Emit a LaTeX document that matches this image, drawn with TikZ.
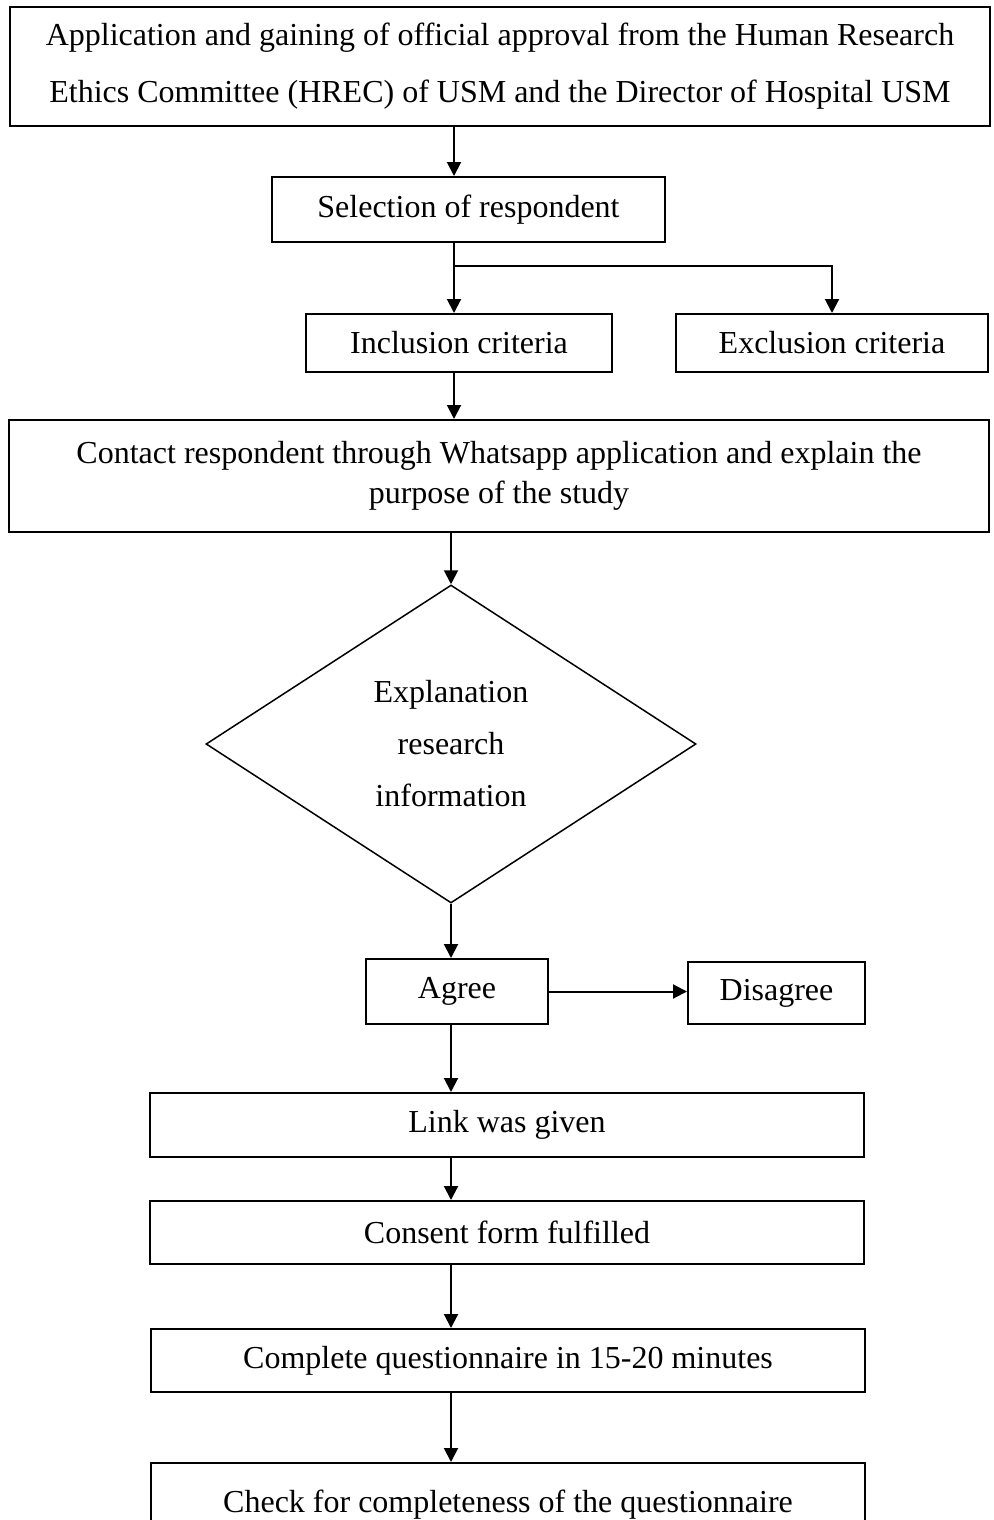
\documentclass[tikz,border=0pt]{standalone}
\usepackage{fontspec}
\setmainfont{Liberation Serif}
\usetikzlibrary{shapes.geometric,arrows.meta}

\begin{document}
\begin{tikzpicture}[x=0.5pt, y=-0.5pt,
        box/.style={draw, line width=1pt, rectangle, inner sep=0pt, align=center, font=\fontsize{16}{20}\selectfont},
        decision/.style={draw, line width=0.75pt, diamond, aspect=1.54, inner sep=0pt, align=center, font=\fontsize{16}{26}\selectfont},
        arr/.style={line width=1pt, -{Triangle[length=7pt, width=7pt]}}]
        \clip (0,0) rectangle (993,1520);
        \node[box, minimum width=490pt, minimum height=59.5pt, font=\fontsize{16}{28.5}\selectfont] (top) at (500, 66.5)
            {Application and gaining of official approval from the Human Research\\Ethics Committee (HREC) of USM and the Director of Hospital USM};
        \node[box, minimum width=196.5pt, minimum height=32.5pt] (sel)   at (468.5, 209.5) {Selection of respondent};
        \node[box, minimum width=152.75pt, minimum height=29pt]  (incl)  at (459, 343)     {Inclusion criteria};
        \node[box, minimum width=156.25pt, minimum height=29pt]  (excl)  at (832, 343)     {Exclusion criteria};
        \node[box, minimum width=490pt, minimum height=56pt]     (cont)  at (499, 476)
            {Contact respondent through Whatsapp application and explain the\\purpose of the study};
        \node[decision, minimum width=245pt, minimum height=159pt] (diam) at (451, 744) {Explanation\\research\\information};
        \node[box, minimum width=91.3pt, minimum height=32.5pt]  (agree) at (457, 991.5)   {Agree};
        \node[box, minimum width=88.5pt, minimum height=31pt]    (dis)   at (776.5, 993)   {Disagree};
        \node[box, minimum width=357.25pt, minimum height=32pt]  (link)  at (507, 1125)    {Link was given};
        \node[box, minimum width=357pt, minimum height=31.5pt]   (cons)  at (507, 1232.5)  {Consent form fulfilled};
        \node[box, minimum width=356.75pt, minimum height=31.5pt] (comp) at (508, 1360.5)  {Complete questionnaire in 15-20 minutes};
        \node[box, minimum width=357pt, minimum height=41.5pt]   (check) at (508, 1504.5)  {Check for completeness of the questionnaire};
        \coordinate (fork) at (454, 266);

        \draw[arr] (top.south -| fork)   -- (sel.north -| fork);
        \draw[arr] (sel.south -| fork)   -- (incl.north -| fork);
        \draw[arr] (fork) -| (excl.north);
        \draw[arr] (incl.south -| fork)  -- (cont.north -| fork);
        \draw[arr] (cont.south -| diam)  -- (diam.north);
        \draw[arr] (diam.south)          -- (agree.north -| diam);
        \draw[arr] (agree.east)          -- (dis.west |- agree.east);
        \draw[arr] (agree.south -| diam) -- (link.north -| diam);
        \draw[arr] (link.south -| diam)  -- (cons.north -| diam);
        \draw[arr] (cons.south -| diam)  -- (comp.north -| diam);
        \draw[arr] (comp.south -| diam)  -- (check.north -| diam);
    \end{tikzpicture}
\end{document}
